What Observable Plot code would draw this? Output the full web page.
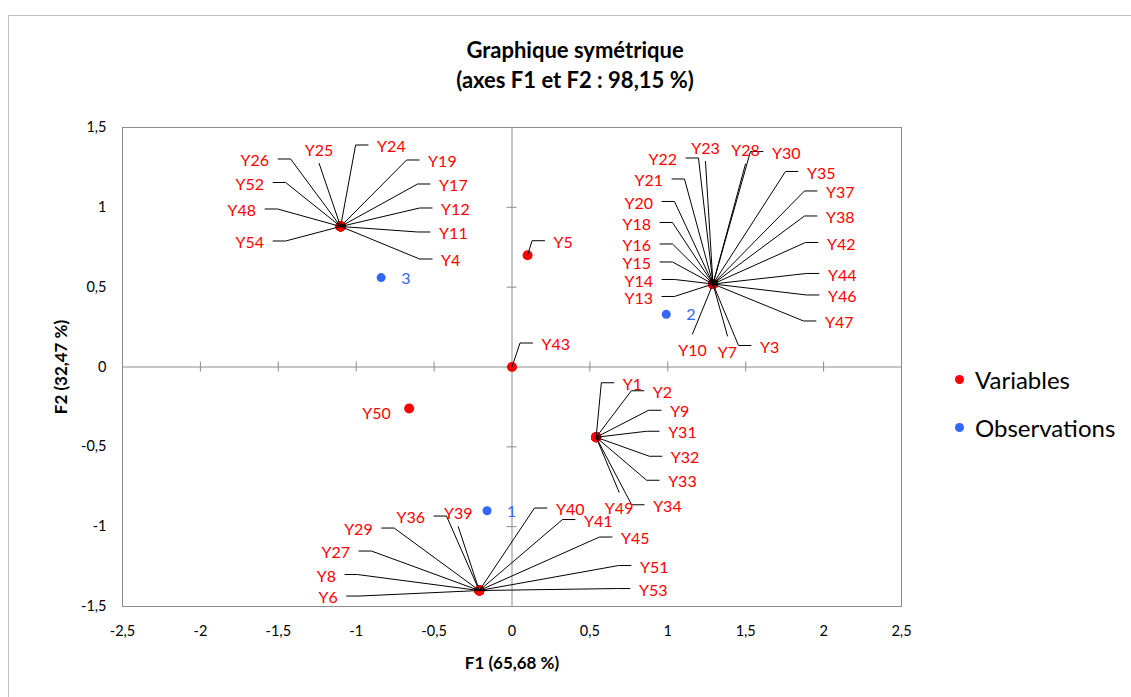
<!DOCTYPE html>
<html><head><meta charset="utf-8">
<script src="https://cdn.jsdelivr.net/npm/d3@7"></script>
<script src="https://cdn.jsdelivr.net/npm/@observablehq/plot@0.6"></script>
<style>
body{margin:0;background:#fff;font-family:Lato,"Open Sans",sans-serif;}
#wrap{position:relative;width:1131px;height:697px;overflow:hidden;background:#fff;}
#border{position:absolute;left:8px;top:15px;width:1200px;height:800px;border:1px solid #c0c0c0;}
#chart{position:absolute;left:0;top:0;}
#title{position:absolute;left:8px;width:1134px;top:35px;text-align:center;font-weight:bold;font-size:22px;line-height:30px;color:#000;}
.leg{position:absolute;left:955px;display:flex;align-items:center;font-size:24px;color:#000;height:30px;}
.sw{width:9px;height:9px;border-radius:50%;margin-right:11px;}
</style></head><body>
<div id="wrap"><div id="border"></div><div id="chart"></div>
<div id="title">Graphique symétrique<br>(axes F1 et F2 : 98,15 %)</div>
<div class="leg" style="top:364px"><div class="sw" style="background:#ff0000"></div>Variables</div>
<div class="leg" style="top:412px"><div class="sw" style="background:#3366ff"></div>Observations</div>
</div>
<script>
// ---- data ----
const variableNames = ["Y1","Y2","Y3","Y4","Y5","Y6","Y7","Y8","Y9","Y10","Y11","Y12","Y13","Y14","Y15","Y16","Y17","Y18","Y19","Y20","Y21","Y22","Y23","Y24","Y25","Y26","Y27","Y28","Y29","Y30","Y31","Y32","Y33","Y34","Y35","Y36","Y37","Y38","Y39","Y40","Y41","Y42","Y43","Y44","Y45","Y46","Y47","Y48","Y49","Y50","Y51","Y52","Y53","Y54"];
const variableF1 = [0.54,0.54,1.29,-1.10,0.10,-0.21,1.29,-0.21,0.54,1.29,
  -1.10,-1.10,1.29,1.29,1.29,1.29,-1.10,1.29,-1.10,1.29,
  1.29,1.29,1.29,-1.10,-1.10,-1.10,-0.21,1.29,-0.21,1.29,
  0.54,0.54,0.54,0.54,1.29,-0.21,1.29,1.29,-0.21,-0.21,
  -0.21,1.29,0.00,1.29,-0.21,1.29,1.29,-1.10,0.54,-0.66,
  -0.21,-1.10,-0.21,-1.10];
const variableF2 = [-0.44,-0.44,0.52,0.88,0.70,-1.40,0.52,-1.40,-0.44,0.52,
  0.88,0.88,0.52,0.52,0.52,0.52,0.88,0.52,0.88,0.52,
  0.52,0.52,0.52,0.88,0.88,0.88,-1.40,0.52,-1.40,0.52,
  -0.44,-0.44,-0.44,-0.44,0.52,-1.40,0.52,0.52,-1.40,-1.40,
  -1.40,0.52,0.00,0.52,-1.40,0.52,0.52,0.88,-0.44,-0.26,
  -1.40,0.88,-1.40,0.88];
const observationNames = ["1","2","3"];
const observationF1 = [-0.16,0.99,-0.84];
const observationF2 = [-0.90,0.33,0.56];
const xTicks = [-2.5,-2,-1.5,-1,-0.5,0,0.5,1,1.5,2,2.5];
const yTicks = [-1.5,-1,-0.5,0,0.5,1,1.5];
const xTitle = "F1 (65,68 %)";
const yTitle = "F2 (32,47 %)";

// ---- label layout (side, pixel offset of label from its point) ----
const labelLayout = {
  Y1:["R",26.7,-52.5],Y2:["R",56.7,-44.5],Y3:["R",47,63.5],Y4:["R",100.5,34.5],Y5:["R",26,-12.5],
  Y6:["L",-141.6,7.5],Y7:["B",14.5,69],Y8:["L",-143.3,-14],Y9:["R",74,-25],Y10:["B",-20.5,67],
  Y11:["R",98.5,7.5],Y12:["R",100.5,-16.5],Y13:["L",-60,14.5],Y14:["L",-60,-2.5],Y15:["L",-62,-20],
  Y16:["L",-62,-38],Y17:["R",98.5,-40.5],Y18:["L",-62,-59.5],Y19:["R",87.5,-64.5],Y20:["L",-60,-80.5],
  Y21:["L",-50,-103],Y22:["L",-36,-124],Y23:["A",-7.5,-135.5],Y24:["R",36.5,-79.5],Y25:["A",-21.5,-76],
  Y26:["L",-71.5,-65.5],Y27:["L",-129.3,-37.5],Y28:["A",32.5,-133],Y29:["L",-106.6,-60.5],Y30:["R",59,-130.5],
  Y31:["R",72,-4],Y32:["R",74.7,21],Y33:["R",72,45],Y34:["R",57,69.5],Y35:["R",94,-110.5],
  Y36:["L",-54.3,-72.5],Y37:["R",113,-91],Y38:["R",113,-66],Y39:["A",-21,-76.8],Y40:["R",76.7,-80.5],
  Y41:["R",104.7,-69],Y42:["R",114,-39.5],Y43:["R",29.5,-22],Y44:["R",115,-8.5],Y45:["R",141.7,-51.5],
  Y46:["R",115,13],Y47:["R",112,39],Y48:["L",-84.5,-15.5],Y49:["B",23,72],Y50:["N",-18.3,5],
  Y51:["R",160.7,-23],Y52:["L",-76.5,-42],Y53:["R",159.7,0],Y54:["L",-76.5,16.5]
};

const W = 1131, H = 697, ML = 122, MR = 230, MT = 127, MB = 91;
const xDomain = [-2.5, 2.5], yDomain = [-1.5, 1.5];
const sx = Plot.scale({x: {domain: xDomain, range: [ML, W - MR]}});
const sy = Plot.scale({y: {domain: yDomain, range: [H - MB, MT]}});
const off = (x, y, dx, dy) => [sx.invert(sx.apply(x) + dx), sy.invert(sy.apply(y) + dy)];
const fmt = d => String(d).replace(".", ",");

const variables = variableNames.map((name, i) => ({name, F1: variableF1[i], F2: variableF2[i]}));
const observations = observationNames.map((name, i) => ({name, F1: observationF1[i], F2: observationF2[i]}));

const labels = [], leaders = [];
variables.forEach(v => {
  const [side, dx, dy] = labelLayout[v.name];
  const [lx, ly] = off(v.F1, v.F2, dx, dy);
  labels.push({name: v.name, lx, ly, anchor: side === "R" ? "start" : (side === "L" || side === "N") ? "end" : "middle"});
  let pts = [];
  if (side === "R") pts = [[dx - 9, dy - 2], [dx - 21.5, dy - 2]];
  else if (side === "L") pts = [[dx + 9, dy - 2], [dx + 21.5, dy - 2]];
  else if (side === "A") pts = [[dx, dy + 13]];
  else if (side === "B") pts = [[dx, dy - 17]];
  if (pts.length) {
    pts.forEach(([px, py]) => { const [a, b] = off(v.F1, v.F2, px, py); leaders.push({name: v.name, x: a, y: b}); });
    leaders.push({name: v.name, x: v.F1, y: v.F2});
  }
});

const tickX = xTicks.map(t => ({x: t, y1: off(t, 0, 0, -5)[1], y2: off(t, 0, 0, 5)[1]}));
const tickY = yTicks.map(t => ({y: t, x1: off(0, t, -5, 0)[0], x2: off(0, t, 5, 0)[0]}));

const red = "#ff0000", blue = "#3366ff", axisGray = "#8c8c8c";
const labelFont = 16;

const plot = Plot.plot({
  width: W, height: H,
  marginLeft: ML, marginRight: MR, marginTop: MT, marginBottom: MB,
  style: {fontFamily: "Lato, 'Open Sans', sans-serif", background: "transparent", overflow: "visible"},
  x: {domain: xDomain, label: null},
  y: {domain: yDomain, label: null},
  marks: [
    Plot.frame({stroke: axisGray}),
    Plot.ruleX([0], {stroke: axisGray}),
    Plot.ruleY([0], {stroke: axisGray}),
    Plot.ruleX(tickX, {x: "x", y1: "y1", y2: "y2", stroke: axisGray}),
    Plot.ruleY(tickY, {y: "y", x1: "x1", x2: "x2", stroke: axisGray}),
    Plot.axisX({ticks: xTicks, tickFormat: fmt, tickSize: 0, tickPadding: 19, fontSize: 14.5, fill: "#000", label: null}),
    Plot.axisY({ticks: yTicks, tickFormat: fmt, tickSize: 0, tickPadding: 16, fontSize: 14.5, fill: "#000", label: null}),
    Plot.text([xTitle], {text: d => d, frameAnchor: "bottom", textAnchor: "middle", lineAnchor: "middle", dy: 57, fontWeight: "bold", fontSize: 17, fill: "#000"}),
    Plot.text([yTitle], {text: d => d, frameAnchor: "left", textAnchor: "middle", lineAnchor: "middle", dx: -61, rotate: -90, fontWeight: "bold", fontSize: 17, fill: "#000"}),
    Plot.dot(variables, {x: "F1", y: "F2", r: 5, fill: red}),
    Plot.dot(observations, {x: "F1", y: "F2", r: 4.5, fill: blue}),
    Plot.line(leaders, {x: "x", y: "y", z: "name", stroke: "#000", strokeWidth: 1, curve: "linear"}),
    Plot.text(labels.filter(d => d.anchor === "start"), {x: "lx", y: "ly", text: "name", textAnchor: "start", fill: red, fontSize: labelFont}),
    Plot.text(labels.filter(d => d.anchor === "end"), {x: "lx", y: "ly", text: "name", textAnchor: "end", fill: red, fontSize: labelFont}),
    Plot.text(labels.filter(d => d.anchor === "middle"), {x: "lx", y: "ly", text: "name", textAnchor: "middle", fill: red, fontSize: labelFont}),
    Plot.text(observations, {x: "F1", y: "F2", text: "name", textAnchor: "start", dx: 20, dy: 1, fill: blue, fontSize: labelFont})
  ]
});
document.getElementById("chart").appendChild(plot);
</script>
</body></html>
